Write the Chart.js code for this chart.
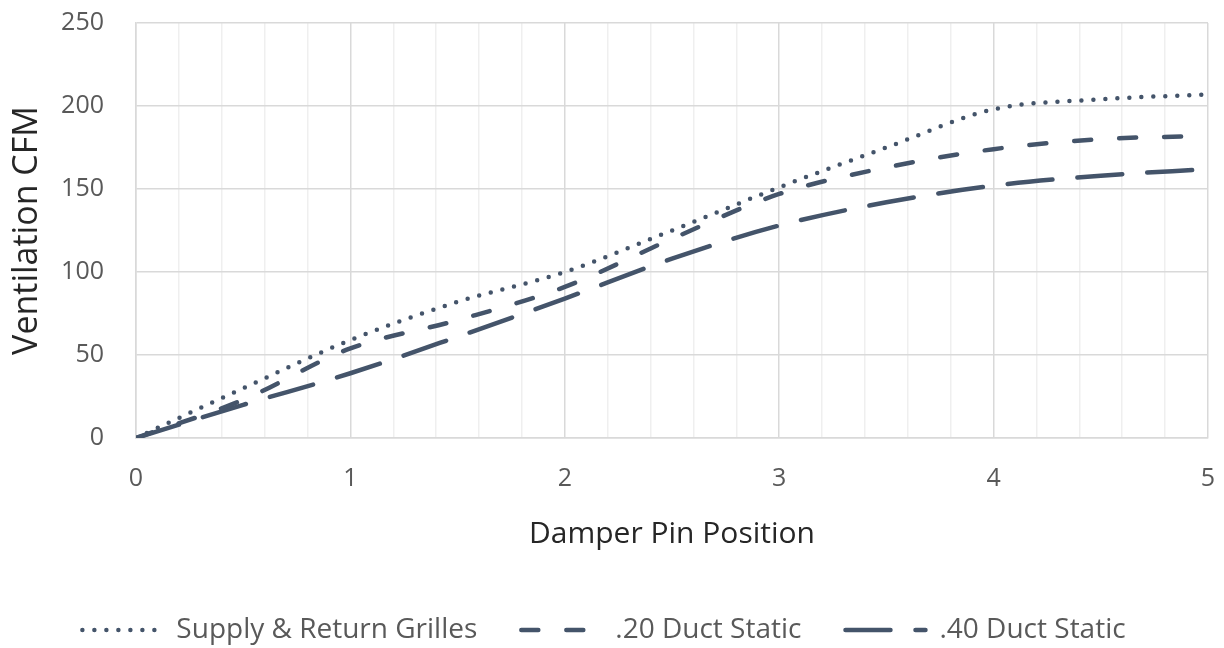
<!DOCTYPE html>
<html>
<head>
<meta charset="utf-8">
<title>Ventilation CFM vs Damper Pin Position</title>
<script src="https://cdn.jsdelivr.net/npm/chart.js@4/dist/chart.umd.min.js"></script>
<style>
  html, body { margin: 0; padding: 0; background: #ffffff; }
  #wrap { width: 1224px; height: 648px; }
</style>
</head>
<body>
<div id="wrap"><canvas id="cfmChart" width="1224" height="648"></canvas></div>
<script>
// Damper pin positions where readings were taken
const pinPositions = [0, 0.5, 1, 1.5, 2, 2.5, 3, 3.5, 4, 4.5, 5];

// Ventilation CFM for each test condition
const grillesCfm = [0, 30, 59, 82, 100, 125, 151, 175, 198, 204, 207];
const duct20Cfm = [0, 23, 54, 71, 91, 120, 147, 163, 174, 180, 182];
const duct40Cfm = [0, 20, 39, 61, 84, 108, 128, 142, 152, 158, 162];

const seriesLabels = ['Supply & Return Grilles', '.20 Duct Static', '.40 Duct Static'];

const lineColor = '#44546A';
const textGrey = '#595959';
const titleColor = '#262626';
const fontFamily = '"Open Sans", Lato, sans-serif';

function toPoints(values) {
    return pinPositions.map((x, i) => ({ x: x, y: values[i] }));
}

function makeDataset(label, values, dash) {
    return {
        label: label,
        data: toPoints(values),
        borderColor: lineColor,
        backgroundColor: lineColor,
        borderWidth: 4.5,
        borderDash: dash,
        borderCapStyle: 'round',
        cubicInterpolationMode: 'monotone',
        pointRadius: 0,
        fill: false
    };
}

const datasets = [
    makeDataset(seriesLabels[0], grillesCfm, [0, 12]),
    makeDataset(seriesLabels[1], duct20Cfm, [17, 28]),
    makeDataset(seriesLabels[2], duct40Cfm, [45, 25])
];

function isWhole(v) {
    return Math.abs(v - Math.round(v)) < 1e-6;
}

const ctx = document.getElementById('cfmChart');

new Chart(ctx, {
    type: 'line',
    data: { datasets: datasets },
    options: {
        responsive: false,
        animation: false,
        layout: { padding: { top: 23, right: 16, bottom: -6, left: 0 } },
        plugins: {
            tooltip: { enabled: false },
            legend: {
                position: 'bottom',
                labels: {
                    usePointStyle: true,
                    pointStyleWidth: 80,
                    padding: 44,
                    color: textGrey,
                    font: { family: fontFamily, size: 28 },
                    generateLabels: chart => chart.data.datasets.map((ds, i) => ({
                        text: ds.label,
                        datasetIndex: i,
                        fillStyle: ds.borderColor,
                        strokeStyle: ds.borderColor,
                        fontColor: textGrey,
                        lineWidth: ds.borderWidth,
                        lineDash: ds.borderDash,
                        lineCap: ds.borderCapStyle,
                        pointStyle: 'line',
                        hidden: false
                    }))
                }
            }
        },
        scales: {
            x: {
                type: 'linear',
                min: 0,
                max: 5,
                afterFit: s => {
                    s.paddingLeft = 0;
                    s.paddingRight = 0;
                    s.height = 648 - 438 - s.chart.legend.height + 6;
                },
                ticks: {
                    stepSize: 0.2,
                    autoSkip: false,
                    maxRotation: 0,
                    padding: 26,
                    color: textGrey,
                    font: { family: fontFamily, size: 25 },
                    callback: v => isWhole(v) ? Math.round(v) : ''
                },
                grid: {
                    drawTicks: false,
                    color: c => isWhole(c.tick.value) ? '#D9D9D9' : '#EFEFEF',
                    lineWidth: 1.5
                },
                border: { color: '#D9D9D9', width: 1.5 },
                title: {
                    display: true,
                    text: 'Damper Pin Position',
                    color: titleColor,
                    font: { family: fontFamily, size: 30 },
                    padding: { top: 14, bottom: 20 }
                }
            },
            y: {
                min: 0,
                max: 250,
                afterFit: s => {
                    s.paddingTop = 0;
                    s.paddingBottom = 0;
                    s.width = 136;
                },
                ticks: {
                    stepSize: 50,
                    padding: 32,
                    color: textGrey,
                    font: { family: fontFamily, size: 25 }
                },
                grid: {
                    drawTicks: false,
                    color: '#D9D9D9',
                    lineWidth: 1.5
                },
                border: { color: '#D9D9D9', width: 1.5 },
                title: {
                    display: true,
                    text: 'Ventilation CFM',
                    color: titleColor,
                    font: { family: fontFamily, size: 34 },
                    padding: { top: 7, bottom: 0 }
                }
            }
        }
    }
});
</script>
</body>
</html>
